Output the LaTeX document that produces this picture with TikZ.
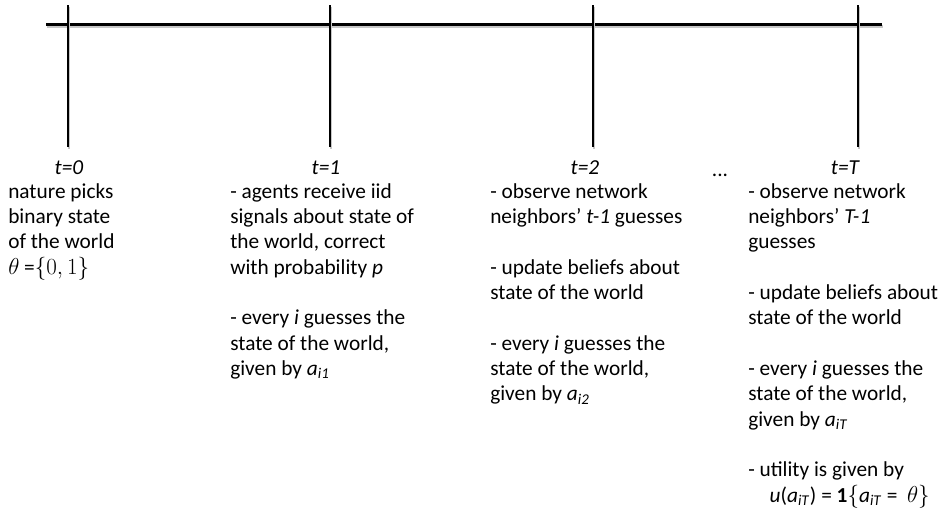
\documentclass[tikz,border=0pt]{standalone}
\usepackage{fontspec}
\setmainfont{Carlito}
\usetikzlibrary{positioning}

\begin{document}
\begin{tikzpicture}[x=0.75pt,y=-0.75pt,
  stage/.style={anchor=base,inner sep=0pt,font=\fontsize{16}{19}\selectfont\itshape},
  notes/.style={anchor=north west,inner sep=0pt,align=left,font=\fontsize{16}{19}\selectfont},
  shade/.style={line width=1.5pt,black!22}]
\useasboundingbox (0,0) rectangle (943,515);
% time axis, drawn over a soft shadow
\draw[shade,line width=2.5pt] (47,26.5)--(883,26.5);
\draw[line width=2.25pt] (46,24) coordinate (axisL)--(882,24) coordinate (axisR);
\foreach \x/\n in {68/0,330/1,593/2,858/T}{
  \draw[shade] (\x+1.3,6.5)--(\x+1.3,148.5);
  \draw[line width=1.5pt] (\x,5) coordinate (top\n)--(\x,147) coordinate (foot\n);
}
% periods
\node[stage] (s0) at (69,174) {t=0};
\node[stage] (s1) at (326,174) {t=1};
\node[stage] (s2) at (585,174) {t=2};
\node[anchor=base,inner sep=0pt,font=\fontsize{16}{19}\selectfont] (dots) at (720,176) {...};
\node[stage] (sT) at (845,174) {t=T};
% what happens in each period
\node[notes] (n0) at (8,183) {nature picks\\ binary state\\ of the world\\ $\theta$ =$\{0,1\}$};
\node[notes] (n1) at (230,183) {- agents receive iid\\ signals about state of\\ the world, correct\\ with probability \textit{p}\\[19pt]
  - every \textit{i} guesses the\\ state of the world,\\ given by \textit{a}\textsubscript{\textit{i1}}};
\node[notes] (n2) at (490,183) {- observe network\\ neighbors’ \textit{t-1} guesses\\[19pt]
  - update beliefs about\\ state of the world\\[19pt]
  - every \textit{i} guesses the\\ state of the world,\\ given by \textit{a}\textsubscript{\textit{i2}}};
\node[notes] (nT) at (748,183) {- observe network\\ neighbors’ \textit{T-1}\\ guesses\\[19pt]
  - update beliefs about\\ state of the world\\[19pt]
  - every \textit{i} guesses the\\ state of the world,\\ given by \textit{a}\textsubscript{\textit{iT}}\\[19pt]
  - utility is given by\\ \hspace{16pt}\textit{u}(\textit{a}\textsubscript{\textit{iT}}) = $\mathbf{1}\{$\textit{a}\textsubscript{\textit{iT}} = \ $\theta\}$};
\end{tikzpicture}
\end{document}
